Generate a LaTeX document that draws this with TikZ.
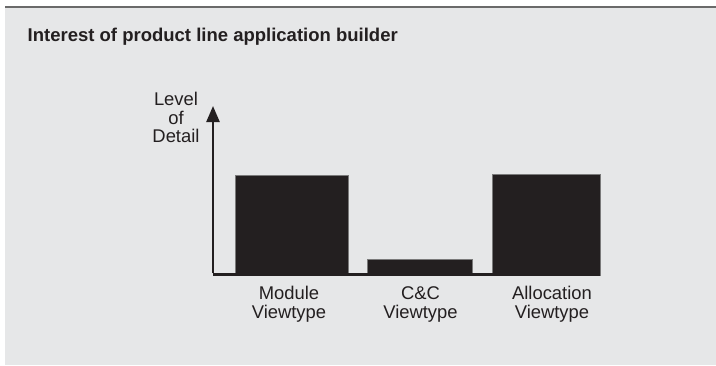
\documentclass[tikz,border=0pt]{standalone}
\usepackage{fontspec}
\setmainfont{Liberation Sans}
\usetikzlibrary{arrows.meta}
\definecolor{panel}{HTML}{E6E7E8}
\definecolor{rule}{HTML}{6A6A6A}
\definecolor{ink}{HTML}{231F20}
\definecolor{edge}{HTML}{7A7A7A}
\tikzset{
  bar/.style={fill=ink, draw=edge, line width=0.6pt},
  axis/.style={draw=ink, line width=2.4pt},
  label/.style={text=ink, inner sep=0pt, align=center, anchor=base,
    font=\fontsize{18.4}{18.3}\selectfont},
  heading/.style={text=ink, inner sep=0pt, anchor=base west,
    font=\fontsize{18.5}{22}\selectfont\bfseries}
}
\begin{document}
\begin{tikzpicture}[x=1pt,y=-1pt]
  \useasboundingbox (0,0) rectangle (716,365);
  % panel and top rule
  \fill[panel] (5,8) rectangle (716,365);
  \fill[rule] (5,6) rectangle (716,8.3);

  % heading
  \node[heading] (title) at (27.5,41.7) {Interest of product line application builder};

  % bars
  \path[bar] (235,175) rectangle (348,275);
  \path[bar] (367.5,259) rectangle (472,275);
  \path[bar] (492.3,174.5) rectangle (600,275.5);

  % axes
  \coordinate (origin) at (213,274.6);
  \coordinate (top) at (213,106);
  \coordinate (xend) at (600,274.6);
  \draw[axis] (xend) -- (origin);
  \draw[axis, -{Triangle[length=16pt,width=13pt]}, line cap=butt] ([yshift=1.2pt]origin) -- (top);

  % labels (base anchor sits on the last line)
  \node[label] (ylab) at (176,142.3) {Level\\of\\Detail};
  \node[label] (mod) at (289,318) {Module\\Viewtype};
  \node[label] (cc) at (420.5,318) {C\&C\\Viewtype};
  \node[label] (alloc) at (552,318) {Allocation\\Viewtype};
\end{tikzpicture}
\end{document}
